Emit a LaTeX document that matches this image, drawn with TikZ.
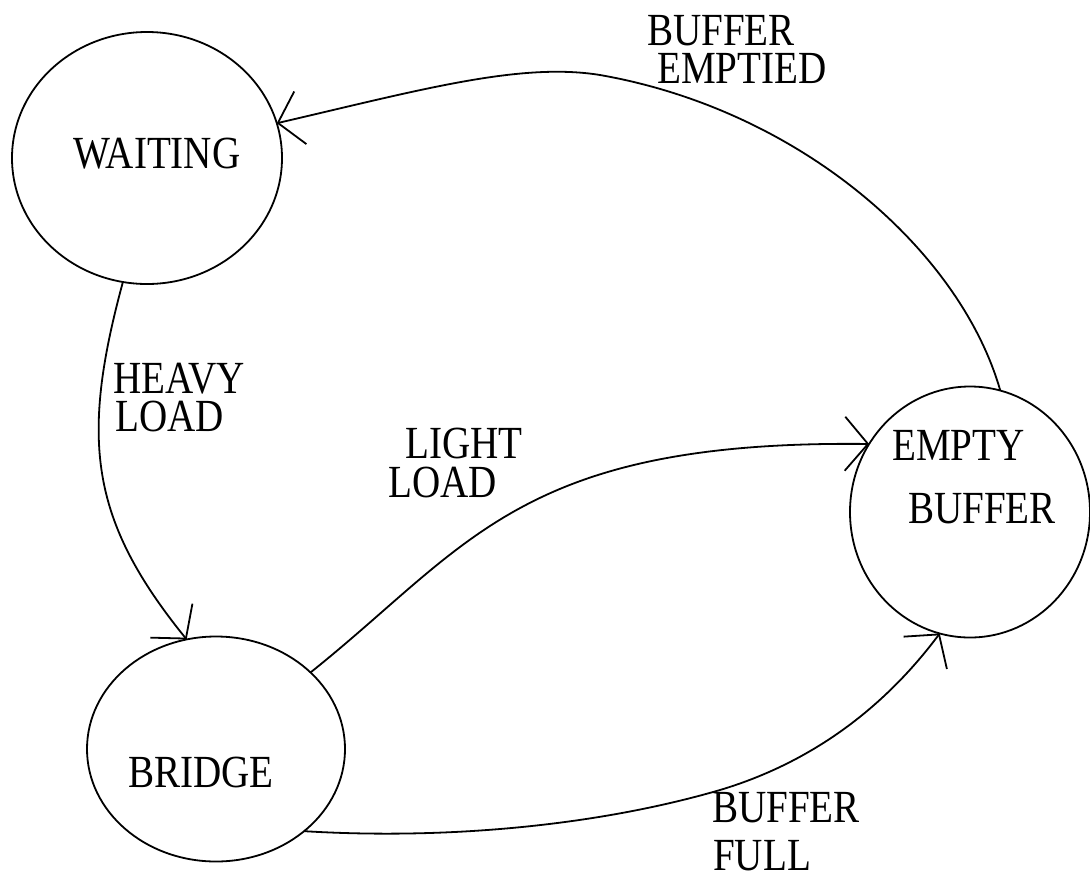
\documentclass[tikz,border=0pt]{standalone}
\usepackage{fontspec}
\setmainfont{Liberation Serif}
\usetikzlibrary{shapes.geometric,arrows.meta}
\newcommand{\mylbl}[1]{\scalebox{0.85}[1]{#1}}
\begin{document}
\begin{tikzpicture}[x=1pt,y=-1pt,
  state/.style={draw, ellipse, line width=1.8pt, inner sep=0pt, outer sep=0pt},
  txt/.style={anchor=base west, inner sep=0pt, text height=31pt, text depth=0pt,
    font=\fontsize{46}{50}\selectfont},
  edge/.style={line width=1.8pt, -{Straight Barb[length=23pt,width=54pt]}}]
\useasboundingbox (0,0) rectangle (1090,879);
\node[state, minimum width=270pt, minimum height=252pt] (w) at (147,158) {};
\node[state, minimum width=258pt, minimum height=225pt] (b) at (216,749) {};
\node[state, minimum width=240pt, minimum height=251pt] (e) at (970,512) {};
% state names
\node[txt] (tw) at (73,168) {\mylbl{WAITING}};
\node[txt] (tb) at (128,787) {\mylbl{BRIDGE}};
\node[txt] (te1) at (892,460) {\mylbl{EMPTY}};
\node[txt] (te2) at (908,523) {\mylbl{BUFFER}};
% edge labels
\node[txt] (l1a) at (647,45) {\mylbl{BUFFER}};
\node[txt] (l1b) at (657,83) {\mylbl{EMPTIED}};
\node[txt] (l2a) at (113,393) {\mylbl{HEAVY}};
\node[txt] (l2b) at (115,431) {\mylbl{LOAD}};
\node[txt] (l3a) at (405,458) {\mylbl{LIGHT}};
\node[txt] (l3b) at (388,497) {\mylbl{LOAD}};
\node[txt] (l4a) at (712,822) {\mylbl{BUFFER}};
\node[txt] (l4b) at (713,870) {\mylbl{FULL}};
% transitions
\draw[edge] (e.76.4) .. controls (960,250) and (800,110) .. (600,75)
  .. controls (520,62) and (420,90) .. (w.15.7);
\draw[edge] (w.259) .. controls (80,440) and (90,520) .. (b.105.6);
\draw[edge] (b.39.6) .. controls (470,545) and (520,440) .. (e.146.85);
\draw[edge] (b.-43.7) .. controls (450,840) and (600,825) .. (720,790)
  .. controls (820,760) and (890,700) .. (e.-104.7);
\end{tikzpicture}
\end{document}
